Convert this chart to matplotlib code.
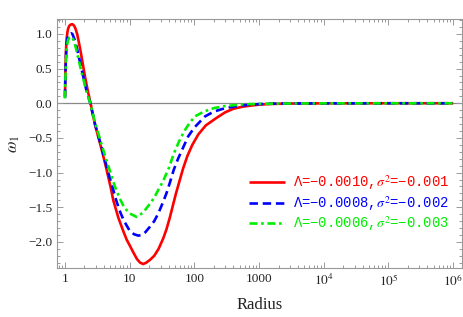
import matplotlib
matplotlib.use("Agg")
import matplotlib.pyplot as plt
from matplotlib.ticker import FixedLocator, NullFormatter

# ---------------- data ----------------
red_x = [1.0, 1.01, 1.02, 1.04, 1.06, 1.09, 1.12, 1.16, 1.2, 1.26, 1.31, 1.38, 1.45, 1.55,
         1.71, 1.85, 2.04, 2.25, 2.48, 2.91, 3.3, 3.69, 4.3, 5.1, 5.58, 6.67, 8.0, 9.0, 10.0,
         11.5, 13.0, 14.5, 16.2, 18.0, 20.6, 24, 28, 33, 37, 42, 47, 52, 59, 67, 78, 93, 115,
         150, 221, 300, 400, 550, 724, 1000, 1500, 3000, 1e4, 1e5, 1e6]
red_y = [0.10, 0.38, 0.57, 0.80, 0.93, 1.03, 1.08, 1.115, 1.13, 1.14, 1.14, 1.12, 1.08, 0.99,
         0.79, 0.61, 0.38, 0.18, 0.0, -0.31, -0.50, -0.67, -0.92, -1.22, -1.40, -1.65, -1.85,
         -1.97, -2.05, -2.16, -2.25, -2.30, -2.32, -2.30, -2.26, -2.20, -2.10, -1.95, -1.82,
         -1.64, -1.46, -1.30, -1.12, -0.94, -0.76, -0.60, -0.45, -0.32, -0.21, -0.13, -0.08,
         -0.05, -0.035, -0.02, -0.01, -0.004, -0.001, 0.0, 0.0]

blue_x = [1.0, 1.01, 1.02, 1.04, 1.06, 1.09, 1.12, 1.17, 1.24, 1.3, 1.38, 1.46, 1.55, 1.7,
          1.92, 2.15, 2.46, 2.91, 3.69, 4.5, 5.3, 6.28, 7.2, 8.2, 10.0, 11.7, 13.6, 15.5, 17.5,
          20.6, 24, 28, 33, 37, 42, 48, 56, 67, 80, 100, 146, 200, 300, 500, 724, 1000, 2000,
          1e4, 1e5, 1e6]
blue_y = [0.08, 0.30, 0.48, 0.72, 0.85, 0.94, 0.98, 1.00, 1.01, 1.00, 0.94, 0.87, 0.77, 0.60,
          0.38, 0.18, 0.0, -0.30, -0.64, -0.95, -1.18, -1.42, -1.58, -1.70, -1.84, -1.89, -1.91,
          -1.90, -1.86, -1.78, -1.70, -1.58, -1.42, -1.30, -1.14, -0.96, -0.80, -0.64, -0.48,
          -0.35, -0.19, -0.12, -0.07, -0.035, -0.02, -0.012, -0.004, -0.001, 0.0, 0.0]

green_x = [1.0, 1.01, 1.02, 1.04, 1.06, 1.09, 1.12, 1.18, 1.27, 1.33, 1.4, 1.48, 1.65, 1.88,
           2.15, 2.46, 2.91, 3.69, 4.3, 4.96, 5.9, 7.08, 8.2, 10.0, 12.8, 16, 20.6, 24, 27.7,
           33, 40.5, 46, 50, 58, 70, 85, 102, 140, 200, 300, 500, 724, 2000, 1e4, 1e6]
green_y = [0.07, 0.26, 0.42, 0.66, 0.78, 0.87, 0.92, 0.95, 0.96, 0.93, 0.87, 0.79, 0.60, 0.38,
           0.17, 0.0, -0.28, -0.60, -0.80, -0.98, -1.20, -1.38, -1.50, -1.59, -1.64, -1.58,
           -1.45, -1.36, -1.25, -1.12, -0.93, -0.78, -0.69, -0.55, -0.40, -0.28, -0.19, -0.12,
           -0.07, -0.04, -0.02, -0.012, -0.004, -0.001, 0.0]

labels = ["Λ=−0.0010,$\\sigma^2$=−0.001",
          "Λ=−0.0008,$\\sigma^2$=−0.002",
          "Λ=−0.0006,$\\sigma^2$=−0.003"]
colors = ["#ff0000", "#0000ff", "#00ee00"]

x_ticks = [1, 10, 100, 1000, 1e4, 1e5, 1e6]
x_ticklabels = ["1", "10", "100", "1000", "$10^4$", "$10^5$", "$10^6$"]
y_ticks = [1.0, 0.5, 0.0, -0.5, -1.0, -1.5, -2.0]
y_ticklabels = ["1.0", "0.5", "0.0", "−0.5", "−1.0", "−1.5", "−2.0"]

# ---------------- figure ----------------
plt.rcParams['mathtext.fontset'] = 'stix'
fig = plt.figure(figsize=(4.63, 3.17), dpi=100)
ax = fig.add_axes([57/463, 1-268/317, (461.7-57)/463, (268-19)/317])

ax.axhline(0, color="#888888", lw=0.9, zorder=1)

l1, = ax.plot(red_x, red_y, color=colors[0], lw=1.9, solid_capstyle='butt',
              solid_joinstyle='round', zorder=3)
l2, = ax.plot(blue_x, blue_y, color=colors[1], lw=1.9, dashes=(3.2, 1.8), zorder=4)
l3, = ax.plot(green_x, green_y, color=colors[2], lw=1.9, dashes=(3.0, 1.4, 1.0, 1.4), zorder=5)

ax.set_xscale('log')
ax.set_xlim(0.752, 1.36e6)
ax.set_ylim(-2.377, 1.216)

ax.xaxis.set_major_locator(FixedLocator(x_ticks))
ax.set_xticklabels(x_ticklabels)
minors = [m * 10**e for e in range(-1, 7) for m in range(2, 10)]
ax.xaxis.set_minor_locator(FixedLocator(minors))
ax.xaxis.set_minor_formatter(NullFormatter())

ax.yaxis.set_major_locator(FixedLocator(y_ticks))
ax.set_yticklabels(y_ticklabels)
yminors = [round(-2.3 + 0.1 * i, 2) for i in range(36)]
ax.yaxis.set_minor_locator(FixedLocator(yminors))

for sp in ax.spines.values():
    sp.set_color("#999999")
    sp.set_linewidth(0.8)

ax.tick_params(which='both', direction='in', top=True, right=True, colors="#999999",
               labelcolor="#222222", labelsize=9.5, width=0.7)
ax.tick_params(which='major', length=4)
ax.tick_params(which='minor', length=2)
for lab in ax.get_xticklabels() + ax.get_yticklabels():
    lab.set_family("Liberation Serif")

ax.set_xlabel("Radius", family="Liberation Serif", fontsize=12, color="#222222", labelpad=6)
ax.set_ylabel("$\\omega_1$", fontsize=12, color="#222222", labelpad=4)

leg = ax.legend([l1, l2, l3], labels, loc='center left', bbox_to_anchor=(0.443, 0.26),
                frameon=False, handlelength=2.6, handletextpad=0.6, labelspacing=0.12,
                prop={'family': 'Liberation Mono', 'size': 10})
for txt, c in zip(leg.get_texts(), colors):
    txt.set_color(c)

fig.savefig("out.png", dpi=100)
